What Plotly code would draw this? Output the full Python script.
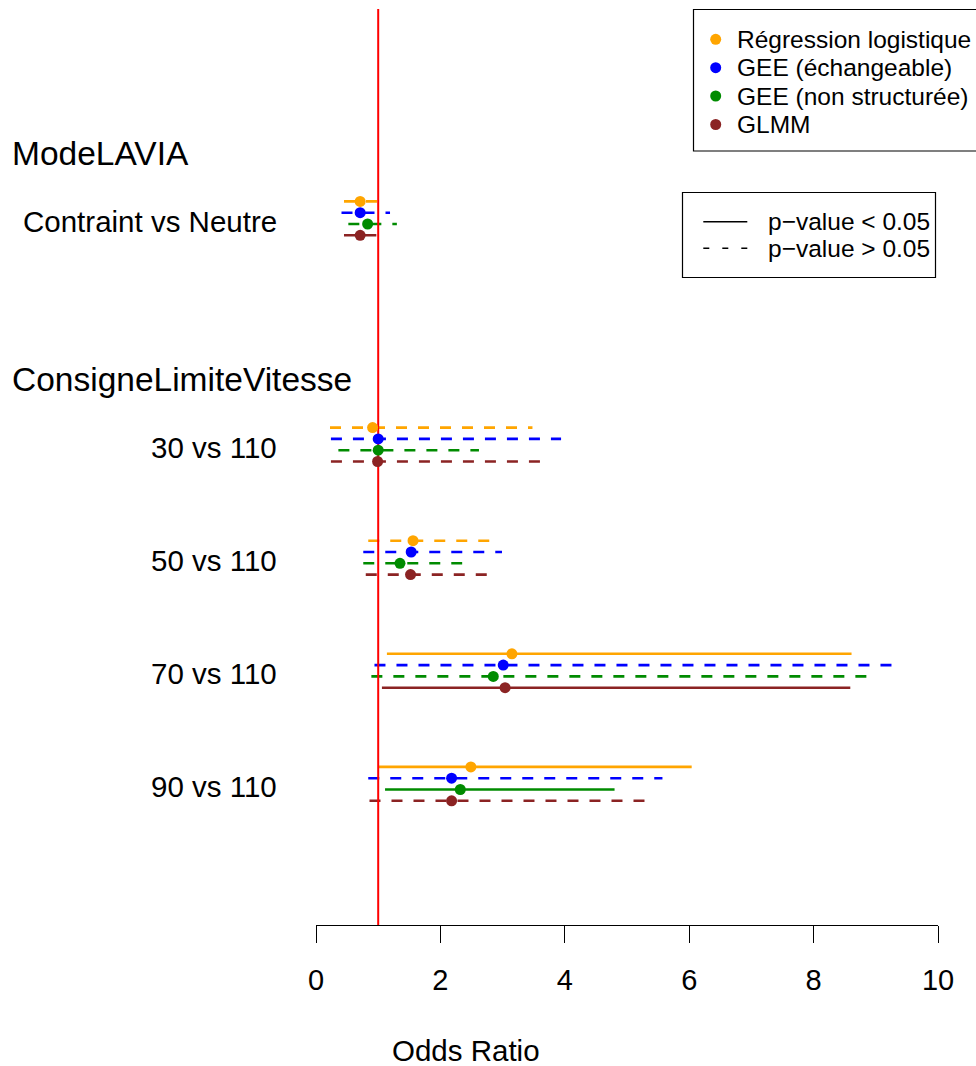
import plotly.graph_objects as go

# ---------------- data ----------------
models = ["Régression logistique", "GEE (échangeable)", "GEE (non structurée)", "GLMM"]
colors = ["#FFA500", "#0000FF", "#008B00", "#8B2323"]

comparisons = ["Contraint vs Neutre", "30 vs 110", "50 vs 110", "70 vs 110", "90 vs 110"]
comp_pos = [6, 4, 3, 2, 1]
headers = ["ModeLAVIA", "ConsigneLimiteVitesse"]
header_pos = [6.6, 4.6]

# odds ratios, lower and upper CI per model (order = comparisons)
or_logit = [0.71, 0.91, 1.56, 3.15, 2.49]
lo_logit = [0.45, 0.225, 0.84, 1.14, 1.01]
hi_logit = [0.98, 3.48, 2.79, 8.61, 6.04]
sig_logit = [False, False, False, True, True]

or_gee_ex = [0.71, 1.00, 1.53, 3.01, 2.18]
lo_gee_ex = [0.41, 0.24, 0.76, 0.94, 0.84]
hi_gee_ex = [1.19, 3.94, 2.99, 9.34, 5.57]
sig_gee_ex = [False, False, False, False, False]

or_gee_un = [0.83, 1.00, 1.35, 2.85, 2.32]
lo_gee_un = [0.52, 0.36, 0.76, 0.89, 1.11]
hi_gee_un = [1.30, 2.62, 2.35, 8.91, 4.80]
sig_gee_un = [False, False, False, False, True]

or_glmm = [0.71, 0.99, 1.52, 3.04, 2.18]
lo_glmm = [0.45, 0.24, 0.80, 1.06, 0.86]
hi_glmm = [0.97, 3.62, 2.75, 8.59, 5.31]
sig_glmm = [True, False, False, True, False]

offsets = [0.15, 0.05, -0.05, -0.15]
x_ticks = [0, 2, 4, 6, 8, 10]

series = [
    (or_logit, lo_logit, hi_logit, sig_logit),
    (or_gee_ex, lo_gee_ex, hi_gee_ex, sig_gee_ex),
    (or_gee_un, lo_gee_un, hi_gee_un, sig_gee_un),
    (or_glmm, lo_glmm, hi_glmm, sig_glmm),
]

# ---------------- layout geometry ----------------
W, H = 976, 1066
L, R, T, B = 316, 38, 9, 141
PW = W - L - R
PH = H - T - B
Y_RANGE = [-0.248, 7.851]
FONT = "Liberation Sans, Arial, Helvetica, sans-serif"


def px_x(p):
    return (p - L) / PW


def px_y(p):
    return (H - B - p) / PH


fig = go.Figure()

# CI segments
for m, (ors, los, his, sigs) in enumerate(series):
    for i in range(len(comparisons)):
        y = comp_pos[i] + offsets[m]
        fig.add_trace(go.Scatter(
            x=[los[i], his[i]], y=[y, y], mode="lines",
            line=dict(color=colors[m], width=2.6,
                      dash="solid" if sigs[i] else "11px,11px"),
            showlegend=False, hoverinfo="skip"))

# reference line at OR = 1
fig.add_trace(go.Scatter(x=[1, 1], y=Y_RANGE, mode="lines",
                         line=dict(color="#FF0000", width=2),
                         showlegend=False, hoverinfo="skip"))

# points
for m, (ors, los, his, sigs) in enumerate(series):
    fig.add_trace(go.Scatter(
        x=ors, y=[p + offsets[m] for p in comp_pos], mode="markers",
        marker=dict(color=colors[m], size=11, line=dict(width=0)),
        name=models[m], showlegend=False))

annotations = []
# row labels
for lab, p in zip(comparisons, comp_pos):
    annotations.append(dict(x=px_x(279), xref="paper", y=p, yref="y", text=lab,
                            showarrow=False, xanchor="right", yanchor="middle",
                            yshift=-3, font=dict(size=29.5, color="black", family=FONT)))
for lab, p in zip(headers, header_pos):
    annotations.append(dict(x=px_x(10), xref="paper", y=p, yref="y", text=lab,
                            showarrow=False, xanchor="left", yanchor="middle",
                            yshift=-3, font=dict(size=33.5, color="black", family=FONT)))
# axis title
annotations.append(dict(x=px_x(466), xref="paper", y=px_y(1050), yref="paper",
                        text="Odds Ratio", showarrow=False, xanchor="center",
                        yanchor="middle", font=dict(size=29.5, color="black", family=FONT)))

shapes = []
# legend 1 (models)
shapes.append(dict(type="rect", xref="paper", yref="paper",
                   x0=px_x(693.5), x1=px_x(990), y0=px_y(151), y1=px_y(9.5),
                   line=dict(color="black", width=1.2), fillcolor="white", layer="above"))
leg_y = [39.3, 67.7, 96.0, 124.5]
for m in range(len(models)):
    shapes.append(dict(type="circle", xref="paper", yref="paper",
                       xsizemode="pixel", ysizemode="pixel",
                       xanchor=px_x(715.7), yanchor=px_y(leg_y[m]),
                       x0=-5.5, x1=5.5, y0=-5.5, y1=5.5,
                       fillcolor=colors[m], line=dict(width=0), layer="above"))
    annotations.append(dict(x=px_x(735), xref="paper", y=px_y(leg_y[m]), yref="paper",
                            text=models[m], showarrow=False, xanchor="left",
                            yanchor="middle", font=dict(size=24.5, color="black", family=FONT)))

# legend 2 (p-values)
shapes.append(dict(type="rect", xref="paper", yref="paper",
                   x0=px_x(682.5), x1=px_x(935.5), y0=px_y(277.5), y1=px_y(192.5),
                   line=dict(color="black", width=1.2), fillcolor="white", layer="above"))
pv_labels = ["p\u2212value < 0.05", "p\u2212value > 0.05"]
pv_dash = ["solid", "6px,13px"]
pv_y = [221.7, 248.3]
for k in range(2):
    shapes.append(dict(type="line", xref="paper", yref="paper",
                       x0=px_x(703.3), x1=px_x(747.3), y0=px_y(pv_y[k]), y1=px_y(pv_y[k]),
                       line=dict(color="black", width=1.4, dash=pv_dash[k]), layer="above"))
    annotations.append(dict(x=px_x(766), xref="paper", y=px_y(pv_y[k]), yref="paper",
                            text=pv_labels[k], showarrow=False, xanchor="left",
                            yanchor="middle", font=dict(size=24.5, color="black", family=FONT)))

fig.update_layout(
    width=W, height=H,
    margin=dict(l=L, r=R, t=T, b=B, pad=0),
    paper_bgcolor="white", plot_bgcolor="white",
    showlegend=False,
    font=dict(family=FONT, color="black"),
    xaxis=dict(range=[0, 10], tickvals=x_ticks, ticktext=[str(v) for v in x_ticks],
               showgrid=False, zeroline=False, showline=True, linecolor="black",
               linewidth=1.2, ticks="outside", ticklen=17, tickwidth=1.2,
               tickcolor="black", tickfont=dict(size=29, color="black", family=FONT),
               ticklabelstandoff=12, fixedrange=True),
    yaxis=dict(range=Y_RANGE, visible=False, showgrid=False, zeroline=False,
               fixedrange=True),
    shapes=shapes,
    annotations=annotations,
)

fig.write_html(
    "out.html",
    config={"displayModeBar": False},
    post_script="document.body.style.margin='0px';document.body.style.overflow='hidden';",
)
